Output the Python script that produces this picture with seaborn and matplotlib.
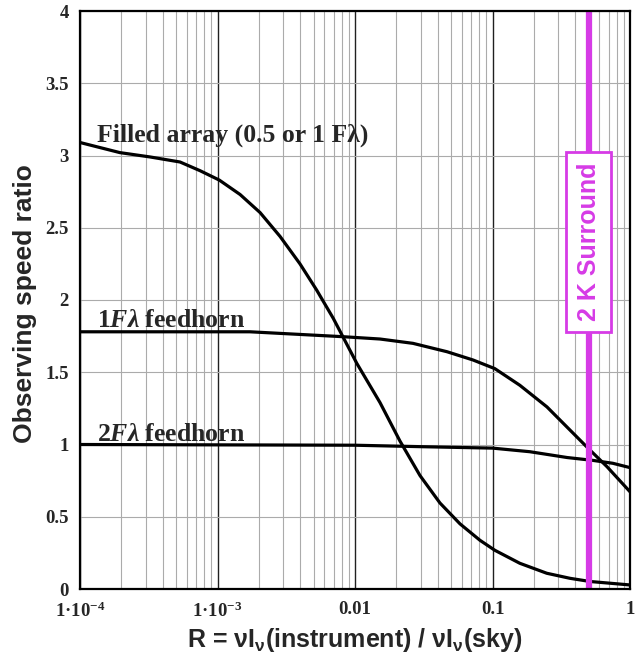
import numpy as np
import pandas as pd
import matplotlib
matplotlib.use("Agg")
import matplotlib.pyplot as plt
import seaborn as sns
from matplotlib.ticker import LogLocator, FixedLocator, NullFormatter

# ---------------- data ----------------
filled_R = [1e-4, 1.95e-4, 3.23e-4, 5.34e-4, 7.46e-4, 1.03e-3, 1.46e-3, 2.04e-3, 2.85e-3,
            3.98e-3, 5.26e-3, 6.95e-3, 0.0103, 0.0152, 0.0212, 0.0297, 0.0415,
            0.058, 0.0811, 0.104, 0.158, 0.248, 0.366, 0.512, 1.0]
filled_S = [3.09, 3.02, 2.99, 2.955, 2.895, 2.83, 2.73, 2.605, 2.44,
            2.25, 2.069, 1.873, 1.562, 1.29, 1.025, 0.785, 0.595,
            0.451, 0.337, 0.268, 0.178, 0.109, 0.074, 0.052, 0.028]

one_R = [1e-4, 1.72e-3, 8.2e-3, 0.0152, 0.0264, 0.0467, 0.0721, 0.104, 0.158, 0.249,
         0.366, 0.496, 0.681, 1.0]
one_S = [1.78, 1.78, 1.746, 1.73, 1.70, 1.642, 1.585, 1.525, 1.41, 1.26,
         1.10, 0.974, 0.846, 0.673]

two_R = [1e-4, 0.01, 0.03, 0.1, 0.187, 0.348, 0.538, 0.75, 1.0]
two_S = [1.0, 0.995, 0.985, 0.975, 0.95, 0.91, 0.89, 0.87, 0.84]

surround_R = 0.5

x_ticks = [1e-4, 1e-3, 1e-2, 1e-1, 1.0]
x_tick_labels = [r"$\mathbf{1·10^{-4}}$", r"$\mathbf{1·10^{-3}}$", "0.01", "0.1", "1"]
y_ticks = [0, 0.5, 1, 1.5, 2, 2.5, 3, 3.5, 4]
y_tick_labels = ["0", "0.5", "1", "1.5", "2", "2.5", "3", "3.5", "4"]

curve_labels = ["Filled array (0.5 or 1 Fλ)", r"1$\mathit{Fλ}$ feedhorn", r"2$\mathit{Fλ}$ feedhorn"]
x_label = r"R = ν$\mathrm{I_{ν}}$(instrument) / ν$\mathrm{I_{ν}}$(sky)"
y_label = "Observing speed ratio"
surround_label = "2 K Surround"

# ---------------- style ----------------
sns.set_style("white")
plt.rcParams["font.family"] = ["Liberation Serif", "DejaVu Sans"]
plt.rcParams["mathtext.fontset"] = "custom"
plt.rcParams["mathtext.rm"] = "Liberation Sans:bold"
plt.rcParams["mathtext.bf"] = "Liberation Serif:bold"
plt.rcParams["mathtext.it"] = "Liberation Serif:italic:bold"

magenta = "#d63be6"

fig = plt.figure(figsize=(6.36, 6.61), dpi=100)
ax = fig.add_axes([80 / 636, 1 - 589 / 661, 550 / 636, 578 / 661])

for R, S in [(filled_R, filled_S), (one_R, one_S), (two_R, two_S)]:
    df = pd.DataFrame({"R": R, "S": S})
    sns.lineplot(data=df, x="R", y="S", ax=ax, color="black", lw=2.3, zorder=3)

ax.set_xscale("log")
ax.set_xlim(1e-4, 1)
ax.set_ylim(0, 4)

ax.xaxis.set_major_locator(FixedLocator(x_ticks))
ax.xaxis.set_minor_locator(LogLocator(base=10, subs=np.arange(2, 10)))
ax.xaxis.set_minor_formatter(NullFormatter())
ax.set_xticks(x_ticks)
ax.set_xticklabels(x_tick_labels, fontfamily="Liberation Serif", fontweight="bold", fontsize=13.5)
ax.set_yticks(y_ticks)
ax.set_yticklabels(y_tick_labels, fontfamily="Liberation Serif", fontweight="bold", fontsize=13.5)
ax.tick_params(which="both", length=0)
ax.tick_params(axis="y", pad=8)
ax.tick_params(axis="x", pad=9)

ax.set_axisbelow(True)
ax.grid(which="major", axis="x", color="#202020", lw=1.0)
ax.grid(which="minor", axis="x", color="#ababab", lw=0.8)
ax.grid(which="major", axis="y", color="#ababab", lw=0.8)

for sp in ax.spines.values():
    sp.set_color("black")
    sp.set_linewidth(1.6)
    sp.set_zorder(5)

ax.set_xlabel(x_label, fontfamily="Liberation Sans", fontweight="bold", fontsize=18)
ax.xaxis.set_label_coords(0.5, -0.064)
ax.xaxis.label.set_va("top")
ax.set_ylabel(y_label, fontfamily="Liberation Sans", fontweight="bold", fontsize=19)
ax.yaxis.set_label_coords(-0.078, 0.493)

ax.text(1.33e-4, 3.095, curve_labels[0], fontfamily="Liberation Serif", fontweight="bold",
        fontsize=18.5, va="baseline", ha="left", zorder=4)
ax.text(1.33e-4, 1.81, curve_labels[1], fontfamily="Liberation Serif", fontweight="bold",
        fontsize=18.5, va="baseline", ha="left", zorder=4)
ax.text(1.33e-4, 1.025, curve_labels[2], fontfamily="Liberation Serif", fontweight="bold",
        fontsize=18.5, va="baseline", ha="left", zorder=4)

ax.axvline(surround_R, color=magenta, lw=4.5, zorder=4)
ax.text(surround_R, 2.40, surround_label, rotation=90, ha="center", va="center",
        color=magenta, fontfamily="Liberation Sans", fontweight="bold", fontsize=18, zorder=6,
        bbox=dict(boxstyle="square,pad=0.42", fc="white", ec=magenta, lw=2))

fig.savefig("out.png", dpi=100)
